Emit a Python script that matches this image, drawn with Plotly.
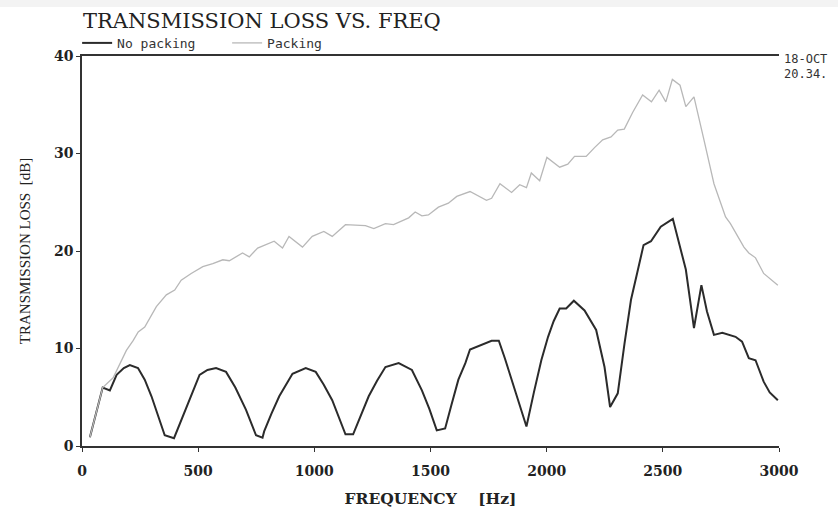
import plotly.graph_objects as go

# ---- data ----
no_packing_freq = [34, 89, 120, 149, 180, 206, 241, 270, 299, 330, 356, 396, 420, 449, 480, 506, 540, 577, 620, 660,
                   706, 749, 777, 784, 815, 849, 906, 963, 1006, 1040, 1077, 1105, 1134, 1167, 1200, 1234, 1270, 1306,
                   1363, 1420, 1463, 1495, 1527, 1563, 1590, 1620, 1650, 1670, 1763, 1794, 1820, 1849, 1880, 1913, 1945,
                   1977, 2006, 2030, 2056, 2084, 2117, 2163, 2213, 2249, 2273, 2306, 2335, 2363, 2390, 2417, 2449, 2491,
                   2543, 2570, 2599, 2634, 2666, 2690, 2720, 2756, 2813, 2841, 2870, 2899, 2934, 2960, 2995]
no_packing_db = [0.9, 6.0, 5.7, 7.3, 8.0, 8.3, 8.0, 6.8, 5.1, 3.0, 1.1, 0.8, 2.2, 4.0, 5.8, 7.3, 7.8, 8.0, 7.6, 6.0,
                 3.7, 1.1, 0.85, 1.5, 3.3, 5.1, 7.4, 8.0, 7.6, 6.3, 4.7, 3.0, 1.2, 1.2, 3.1, 5.1, 6.7, 8.1,
                 8.5, 7.8, 5.7, 3.8, 1.6, 1.8, 4.2, 6.8, 8.5, 9.9, 10.8, 10.8, 9.0, 6.8, 4.5, 2.0, 5.5,
                 8.8, 11.2, 12.8, 14.1, 14.1, 14.9, 13.9, 11.9, 8.1, 4.0, 5.4, 10.5, 15.0, 17.8, 20.6, 21.0, 22.5,
                 23.3, 20.8, 18.1, 12.1, 16.5, 13.8, 11.4, 11.6, 11.2, 10.7, 9.0, 8.8, 6.6, 5.5, 4.7]

packing_freq = [34, 89, 134, 160, 191, 220, 242, 270, 295, 320, 363, 399, 427, 470, 520, 563, 606, 634, 691, 720,
                756, 827, 863, 891, 949, 991, 1041, 1077, 1134, 1220, 1256, 1306, 1341, 1406, 1434, 1463, 1491, 1534,
                1577, 1613, 1670, 1741, 1763, 1799, 1849, 1884, 1913, 1934, 1970, 2001, 2056, 2091, 2120, 2170, 2206,
                2241, 2277, 2306, 2334, 2370, 2413, 2451, 2484, 2513, 2541, 2574, 2599, 2634, 2677, 2720, 2770, 2791,
                2849, 2870, 2899, 2934, 2995]
packing_db = [0.9, 6.0, 7.0, 8.3, 9.8, 10.8, 11.7, 12.2, 13.3, 14.3, 15.5, 16.0, 17.0, 17.7, 18.4, 18.7, 19.1, 19.0, 19.8, 19.4,
              20.3, 21.0, 20.3, 21.5, 20.4, 21.5, 22.0, 21.5, 22.7, 22.6, 22.3, 22.8, 22.7, 23.4, 24.0, 23.6, 23.7, 24.5,
              24.9, 25.6, 26.1, 25.2, 25.4, 26.9, 26.0, 26.8, 26.5, 28.0, 27.2, 29.6, 28.6, 28.9, 29.7, 29.7, 30.6,
              31.4, 31.7, 32.4, 32.5, 34.2, 36.0, 35.3, 36.5, 35.3, 37.6, 37.0, 34.8, 35.8, 31.4, 26.9, 23.5, 22.8,
              20.4, 19.8, 19.3, 17.7, 16.5]

x_ticks = [0, 500, 1000, 1500, 2000, 2500, 3000]
y_ticks = [0, 10, 20, 30, 40]

fig = go.Figure()
fig.add_trace(go.Scatter(x=no_packing_freq, y=no_packing_db, mode="lines", name="No packing",
                         line=dict(color="#2b2b2b", width=2)))
fig.add_trace(go.Scatter(x=packing_freq, y=packing_db, mode="lines", name="Packing",
                         line=dict(color="#b8b8b8", width=1.3)))

tick_font = dict(family="DejaVu Serif", size=14, color="#222", weight="bold")
PLOT_H = 390.0  # plot area height in px (56..446)
PLOT_W = 697.0  # plot area width in px (82..779)

fig.update_layout(
    width=838, height=508,
    margin=dict(l=82, r=59, t=56, b=62, autoexpand=False),
    paper_bgcolor="white", plot_bgcolor="white",
    showlegend=True,
    legend=dict(orientation="h", x=-0.007, xanchor="left", y=0.995, yanchor="bottom",
                font=dict(family="DejaVu Sans Mono", size=13, color="#333"),
                itemwidth=30, entrywidth=105, entrywidthmode="pixels",
                tracegroupgap=0, bgcolor="rgba(0,0,0,0)"),
    title=dict(text="TRANSMISSION LOSS VS. FREQ", x=83 / 838, xanchor="left", y=1 - 21 / 508, yanchor="middle",
               font=dict(family="DejaVu Serif", size=21, color="#222")),
    xaxis=dict(range=[0, 3000], tickvals=x_ticks, ticktext=[str(v) for v in x_ticks],
               showgrid=False, zeroline=False, showline=True, linecolor="#333", linewidth=1.5,
               mirror=True, ticks="outside", ticklen=4, tickcolor="#333", tickfont=tick_font,
               ticklabelstandoff=7, automargin=False,
               title=dict(text="FREQUENCY\u00a0\u00a0\u00a0\u00a0[Hz]", standoff=22,
                          font=dict(family="DejaVu Serif", size=15.5, color="#222", weight="bold"))),
    yaxis=dict(range=[0, 40], tickvals=y_ticks, ticktext=[str(v) for v in y_ticks],
               showgrid=False, zeroline=False, showline=True, linecolor="#333", linewidth=1.5,
               ticks="outside", ticklen=4, tickcolor="#333", tickfont=tick_font, automargin=False,
               title=dict(text="TRANSMISSION LOSS\u00a0\u00a0[dB]", standoff=20,
                          font=dict(family="Liberation Serif", size=15, color="#222"))),
)

# light band at the very top of the image
fig.add_shape(type="rect", xref="paper", yref="paper", x0=-82 / PLOT_W, x1=(838 - 82) / PLOT_W,
              y0=(446 - 7) / PLOT_H, y1=446 / PLOT_H, fillcolor="#f3f3f3", line=dict(width=0), layer="below")

date_font = dict(family="DejaVu Sans Mono", size=12, color="#333")
fig.add_annotation(text="18-OCT", xref="paper", yref="paper", x=(782 - 82) / PLOT_W, y=(446 - 59) / PLOT_H,
                   xanchor="left", yanchor="middle", showarrow=False, font=date_font)
fig.add_annotation(text="20.34.", xref="paper", yref="paper", x=(782 - 82) / PLOT_W, y=(446 - 74) / PLOT_H,
                   xanchor="left", yanchor="middle", showarrow=False, font=date_font)

fig.write_html("out.html", config={"displayModeBar": False},
               post_script="document.body.style.margin='0';")
